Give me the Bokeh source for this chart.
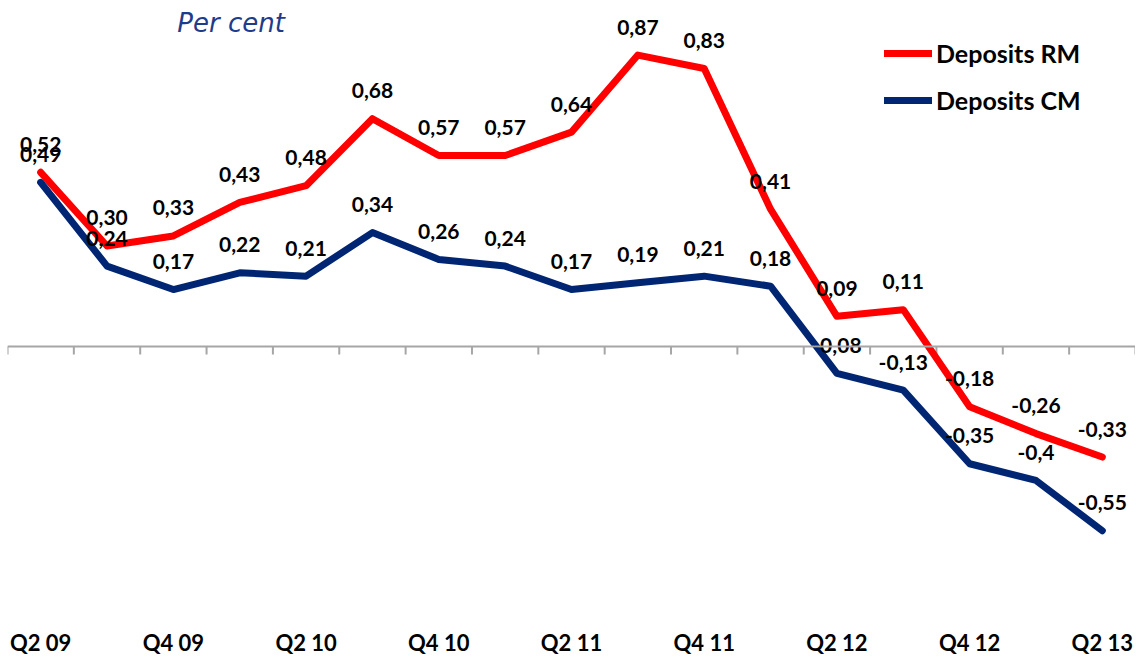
from bokeh.plotting import figure
from bokeh.models import ColumnDataSource, Range1d, FixedTicker, Span, Legend, LegendItem, Label
from bokeh.core.properties import value
from bokeh.embed import file_html
from bokeh.resources import INLINE

quarters = ["Q2 09", "Q3 09", "Q4 09", "Q1 10", "Q2 10", "Q3 10", "Q4 10", "Q1 11",
            "Q2 11", "Q3 11", "Q4 11", "Q1 12", "Q2 12", "Q3 12", "Q4 12", "Q1 13", "Q2 13"]
deposits_rm = [0.52, 0.30, 0.33, 0.43, 0.48, 0.68, 0.57, 0.57, 0.64, 0.87, 0.83, 0.41,
               0.09, 0.11, -0.18, -0.26, -0.33]
deposits_cm = [0.49, 0.24, 0.17, 0.22, 0.21, 0.34, 0.26, 0.24, 0.17, 0.19, 0.21, 0.18,
               -0.08, -0.13, -0.35, -0.40, -0.55]
cm_labels = ["0,49", "0,24", "0,17", "0,22", "0,21", "0,34", "0,26", "0,24", "0,17", "0,19",
             "0,21", "0,18", "-0,08", "-0,13", "-0,35", "-0,4", "-0,55"]
shown_ticks = quarters[::2]

RED = "#FF0000"
NAVY = "#002673"
FONT = "Lato"

xs = list(range(len(quarters)))
rm_labels = [f"{v:.2f}".replace(".", ",") for v in deposits_rm]

src_rm = ColumnDataSource(dict(x=xs, y=deposits_rm, lab=rm_labels))
src_cm = ColumnDataSource(dict(x=xs, y=deposits_cm, lab=cm_labels))

p = figure(frame_width=1128, frame_height=612, output_backend="svg", toolbar_location=None,
           x_range=Range1d(-0.5, len(quarters) - 0.5), y_range=Range1d(-0.818, 1.009),
           y_axis_location=None, min_border_left=7, min_border_right=0, min_border_top=8,
           min_border_bottom=0)
p.outline_line_color = None
p.xgrid.visible = False
p.ygrid.visible = False
p.background_fill_color = "white"
p.border_fill_color = "white"

# zero line with category boundary ticks
p.add_layout(Span(location=0, dimension="width", line_color="#A6A6A6", line_width=2))
bounds = [i - 0.5 for i in range(len(quarters) + 1)]
p.segment(x0=bounds, x1=bounds, y0=[0] * len(bounds), y1=[-0.024] * len(bounds),
          line_color="#A6A6A6", line_width=2)

r_rm = p.line("x", "y", source=src_rm, line_color=RED, line_width=7, line_join="round", line_cap="round")
r_cm = p.line("x", "y", source=src_cm, line_color=NAVY, line_width=7, line_join="round", line_cap="round")

for src in (src_rm, src_cm):
    p.text("x", "y", text="lab", source=src, text_font=value(FONT), text_font_style="bold",
           text_font_size="21px", text_color="black", text_align="center",
           text_baseline="middle", y_offset=-28)

ax = p.xaxis[0]
ax.ticker = FixedTicker(ticks=xs[::2])
ax.major_label_overrides = {i: quarters[i] for i in xs[::2]}
ax.axis_line_color = None
ax.major_tick_line_color = None
ax.minor_tick_line_color = None
ax.major_tick_out = 0
ax.major_tick_in = 0
ax.minor_tick_out = 0
ax.major_label_text_font = FONT
ax.major_label_text_font_style = "bold"
ax.major_label_text_font_size = "22px"
ax.major_label_text_color = "black"
ax.major_label_standoff = 8

legend = Legend(items=[LegendItem(label="Deposits RM", renderers=[r_rm]),
                       LegendItem(label="Deposits CM", renderers=[r_cm])],
                location=(877, 505), orientation="vertical")
legend.label_text_font = FONT
legend.label_text_font_style = "bold"
legend.label_text_font_size = "25px"
legend.label_text_color = "black"
legend.glyph_width = 48
legend.glyph_height = 30
legend.label_height = 30
legend.spacing = 17
legend.label_standoff = 4
legend.padding = 0
legend.margin = 0
legend.border_line_color = None
legend.background_fill_alpha = 0
p.add_layout(legend)

p.add_layout(Label(x=2.06, y=0.967, text="Per cent", text_font="DejaVu Sans",
                   text_font_style="italic", text_font_size="26px", text_color="#1F3C8C",
                   text_baseline="middle", text_align="left"))

open("out.html", "w").write(file_html(p, INLINE))
